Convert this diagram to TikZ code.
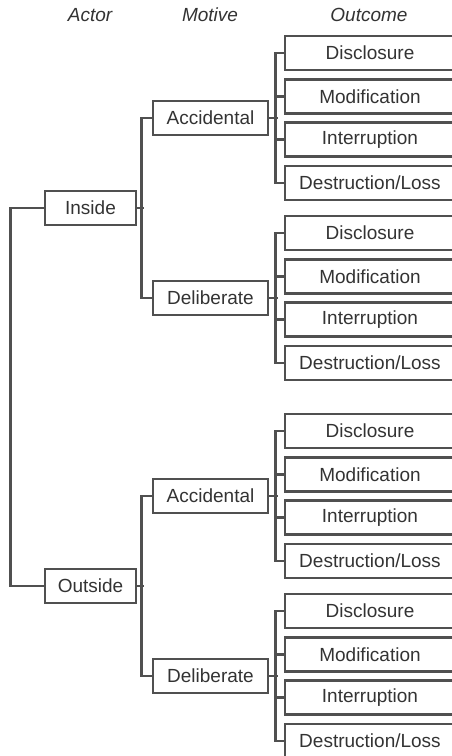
\documentclass[tikz,border=0pt]{standalone}
\usepackage{fontspec}
\setmainfont{Liberation Sans}
\definecolor{linegray}{HTML}{505050}
\definecolor{textgray}{HTML}{333333}
\begin{document}
\begin{tikzpicture}[x=1pt,y=-1pt,
  box/.style={draw=linegray,line width=2.6pt,minimum height=34pt,inner sep=0pt,
    text=textgray,font=\fontsize{19}{22}\selectfont},
  link/.style={draw=linegray,line width=2.6pt},
  head/.style={text=textgray,font=\fontsize{19}{22}\selectfont\itshape}]
  \useasboundingbox (0,0) rectangle (451,756);
  \node[head] (hactor) at (90,15) {Actor};
  \node[head] (hmotive) at (210,15) {Motive};
  \node[head] (houtcome) at (369,15) {Outcome};
  \node[box,minimum width=91pt] (inside) at (90.5,208) {Inside};
  \node[box,minimum width=91pt] (outside) at (90.5,586) {Outside};
  \node[box,minimum width=115pt] (acc1) at (210.5,118) {Accidental};
  \node[box,minimum width=115pt] (del1) at (210.5,298) {Deliberate};
  \node[box,minimum width=115pt] (acc2) at (210.5,496) {Accidental};
  \node[box,minimum width=115pt] (del2) at (210.5,676) {Deliberate};
  \draw[link] (inside.west) -- ++(-33,0) |- (outside.west);
  \draw[link] (inside.east) -- ++(7,0);
  \draw[link] (outside.east) -- ++(7,0);
  \draw[link] (acc1.west) -- ++(-10,0) |- (del1.west);
  \draw[link] (acc2.west) -- ++(-10,0) |- (del2.west);
  \foreach \g/\y in {acc1/118,del1/298,acc2/496,del2/676} {
    \node[box,minimum width=170pt] (\g-a) at (370,\y-65) {Disclosure};
    \node[box,minimum width=170pt] (\g-b) at (370,\y-21.7) {Modification};
    \node[box,minimum width=170pt] (\g-c) at (370,\y+21.7) {Interruption};
    \node[box,minimum width=170pt] (\g-d) at (370,\y+65) {Destruction/Loss};
    \draw[link] (\g.east) -- ++(9,0);
    \draw[link] (\g-a.west) -- ++(-8,0) |- (\g-d.west);
    \draw[link] (\g-b.west) -- ++(-8,0);
    \draw[link] (\g-c.west) -- ++(-8,0);
  }
\end{tikzpicture}
\end{document}
